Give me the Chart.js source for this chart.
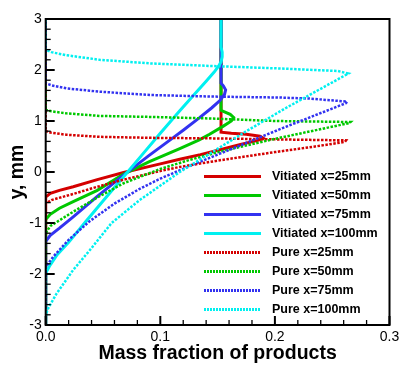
<!DOCTYPE html>
<html lang="en">
<head>
<meta charset="UTF-8"/>
<title>Mass fraction of products</title>
<script src="https://cdn.jsdelivr.net/npm/chart.js"></script>
<style>
  body { margin: 0; background: #fff; font-family: "Liberation Sans", Arial, sans-serif; }
  .wrap { position: relative; width: 411px; height: 366px; }
  #legend { position: absolute; left: 204px; top: 166.5px; margin: 0; padding: 0; list-style: none; }
  #legend li { height: 19px; display: flex; align-items: center; font-weight: bold; font-size: 12.5px; color: #000; }
  #legend .swatch { width: 57px; height: 3px; margin-right: 11px; }
</style>
</head>
<body>
<div class="wrap">
  <canvas id="chart" width="411" height="366"></canvas>
  <ul id="legend"></ul>
</div>

<script>
// vitiated coflow (solid)
const vit25x = [0, 0, 0.004, 0.012, 0.024, 0.045, 0.068, 0.1, 0.117, 0.135, 0.153, 0.17, 0.185, 0.19, 0.187, 0.175, 0.162, 0.153, 0.153];
const vit25y = [-3, -0.49, -0.42, -0.36, -0.29, -0.15, -0.01, 0.16, 0.25, 0.34, 0.44, 0.54, 0.62, 0.66, 0.7, 0.74, 0.76, 0.78, 3];
const vit50x = [0, 0, 0.004, 0.012, 0.024, 0.045, 0.068, 0.09, 0.117, 0.134, 0.143, 0.155, 0.162, 0.164, 0.161, 0.156, 0.153, 0.153];
const vit50y = [-3, -0.93, -0.83, -0.71, -0.58, -0.36, -0.04, 0.2, 0.46, 0.63, 0.74, 0.9, 1.0, 1.07, 1.13, 1.18, 1.21, 3];
const vit75x = [0, 0, 0.004, 0.012, 0.024, 0.045, 0.068, 0.09, 0.111, 0.12, 0.134, 0.145, 0.152, 0.156, 0.157, 0.155, 0.153, 0.153];
const vit75y = [-3, -1.36, -1.24, -1.1, -0.88, -0.48, -0.06, 0.32, 0.67, 0.82, 1.06, 1.26, 1.4, 1.52, 1.61, 1.69, 1.74, 3];
const vit100x = [0, 0, 0.004, 0.01, 0.02, 0.035, 0.05, 0.07, 0.085, 0.1, 0.117, 0.13, 0.14, 0.147, 0.151, 0.153, 0.154, 0.154, 0.153, 0.153];
const vit100y = [-3, -1.98, -1.82, -1.62, -1.38, -0.97, -0.57, -0.04, 0.36, 0.76, 1.2, 1.53, 1.78, 1.96, 2.08, 2.16, 2.26, 2.35, 2.45, 3];

// pure coflow (dotted)
const pure25x = [0, 0, 0.005, 0.024, 0.045, 0.068, 0.1, 0.117, 0.152, 0.2, 0.235, 0.261, 0.262, 0.23, 0.2, 0.143, 0.091, 0.047, 0.018, 0.005, 0, 0];
const pure25y = [-3, -0.62, -0.55, -0.43, -0.29, -0.15, 0.02, 0.1, 0.23, 0.39, 0.5, 0.59, 0.62, 0.63, 0.64, 0.66, 0.67, 0.69, 0.73, 0.77, 0.8, 3];
const pure50x = [0, 0, 0.004, 0.024, 0.045, 0.068, 0.1, 0.126, 0.152, 0.2, 0.265, 0.266, 0.2, 0.143, 0.091, 0.047, 0.018, 0.005, 0, 0];
const pure50y = [-3, -1.2, -1.06, -0.78, -0.5, -0.22, 0.06, 0.24, 0.4, 0.65, 0.96, 0.98, 1.0, 1.05, 1.08, 1.1, 1.15, 1.19, 1.22, 3];
const pure75x = [0, 0, 0.0066, 0.02, 0.0386, 0.06, 0.082, 0.1, 0.126, 0.152, 0.175, 0.21, 0.262, 0.263, 0.23, 0.204, 0.143, 0.091, 0.047, 0.018, 0.005, 0, 0];
const pure75y = [-3, -1.86, -1.66, -1.33, -0.96, -0.62, -0.33, -0.13, 0.12, 0.36, 0.57, 0.89, 1.35, 1.38, 1.44, 1.46, 1.48, 1.51, 1.575, 1.64, 1.7, 1.74, 3];
const pure100x = [0, 0, 0.002, 0.0096, 0.024, 0.0386, 0.0575, 0.082, 0.117, 0.146, 0.175, 0.21, 0.264, 0.255, 0.204, 0.143, 0.091, 0.047, 0.018, 0.005, 0, 0];
const pure100y = [-3, -2.8, -2.68, -2.38, -1.92, -1.53, -1.0, -0.55, 0.0, 0.4, 0.8, 1.26, 1.93, 1.98, 2.03, 2.08, 2.13, 2.2, 2.29, 2.35, 2.4, 3];

const labels = ['Vitiated x=25mm', 'Vitiated x=50mm', 'Vitiated x=75mm', 'Vitiated x=100mm',
                'Pure x=25mm', 'Pure x=50mm', 'Pure x=75mm', 'Pure x=100mm'];
const colors = ['#d40000', '#00c800', '#3232f0', '#00f0f0'];
const seriesX = [vit25x, vit50x, vit75x, vit100x, pure25x, pure50x, pure75x, pure100x];
const seriesY = [vit25y, vit50y, vit75y, vit100y, pure25y, pure50y, pure75y, pure100y];

Chart.defaults.font.family = '"Liberation Sans", Arial, sans-serif';
Chart.defaults.color = '#000';

const datasets = labels.map((label, i) => {
  const dotted = i >= 4;
  return {
    label,
    data: seriesX[i].map((x, k) => ({ x, y: seriesY[i][k] })),
    showLine: true,
    borderColor: colors[i % 4],
    borderWidth: dotted ? 2.5 : 3,
    borderDash: dotted ? [2.5, 1.5] : [],
    pointRadius: 0,
    tension: 0,
    order: labels.length - i   // later series on top
  };
});

// tecplot style frame with inward ticks
const frameTicks = {
  id: 'frameTicks',
  afterDatasetsDraw(chart) {
    const { ctx, chartArea: a, scales: { x, y } } = chart;
    ctx.save();
    ctx.strokeStyle = '#000';
    for (let i = 0; i <= 15; i++) {
      const px = x.getPixelForValue(i * 0.02);
      const major = i % 5 === 0;
      ctx.lineWidth = major ? 2 : 1.3;
      ctx.beginPath();
      ctx.moveTo(px, a.bottom);
      ctx.lineTo(px, a.bottom - (major ? 9 : 5));
      ctx.stroke();
    }
    for (let i = 0; i <= 30; i++) {
      const py = y.getPixelForValue(-3 + i * 0.2);
      const major = i % 5 === 0;
      ctx.lineWidth = major ? 2 : 1.3;
      ctx.beginPath();
      ctx.moveTo(a.left, py);
      ctx.lineTo(a.left + (major ? 9 : 5), py);
      ctx.stroke();
    }
    ctx.lineWidth = 2;
    ctx.strokeRect(a.left, a.top, a.right - a.left, a.bottom - a.top);
    ctx.restore();
  }
};

new Chart(document.getElementById('chart'), {
  type: 'scatter',
  data: { datasets },
  options: {
    responsive: false,
    animation: false,
    layout: { padding: { top: 19, right: 21.5, left: 0, bottom: 0 } },
    plugins: { legend: { display: false }, tooltip: { enabled: false } },
    scales: {
      x: {
        type: 'linear', min: 0, max: 0.3,
        afterFit: s => { s.height = 41; },
        grid: { display: false, drawTicks: false }, border: { display: false },
        ticks: { stepSize: 0.1, padding: 4, maxRotation: 0, font: { size: 14 }, callback: v => v.toFixed(1) },
        title: { display: true, text: 'Mass fraction of products', font: { size: 19.5, weight: 'bold' }, padding: { top: 0, bottom: 1 } }
      },
      y: {
        type: 'linear', min: -3, max: 3,
        afterFit: s => { s.width = 45.7; },
        grid: { display: false, drawTicks: false }, border: { display: false },
        ticks: { stepSize: 1, padding: 4, font: { size: 14 }, callback: v => String(v) },
        title: { display: true, text: 'y, mm', font: { size: 19.5, weight: 'bold' }, padding: { top: 6, bottom: 0 } }
      }
    }
  },
  plugins: [frameTicks]
});

// legend inside the plot, like the original
const legendEl = document.getElementById('legend');
labels.forEach((label, i) => {
  const li = document.createElement('li');
  const sw = document.createElement('span');
  sw.className = 'swatch';
  const c = colors[i % 4];
  sw.style.background = i >= 4
    ? `repeating-linear-gradient(to right, ${c} 0 2px, transparent 2px 3px)`
    : c;
  li.appendChild(sw);
  li.appendChild(document.createTextNode(label));
  legendEl.appendChild(li);
});
</script>
</body>
</html>
